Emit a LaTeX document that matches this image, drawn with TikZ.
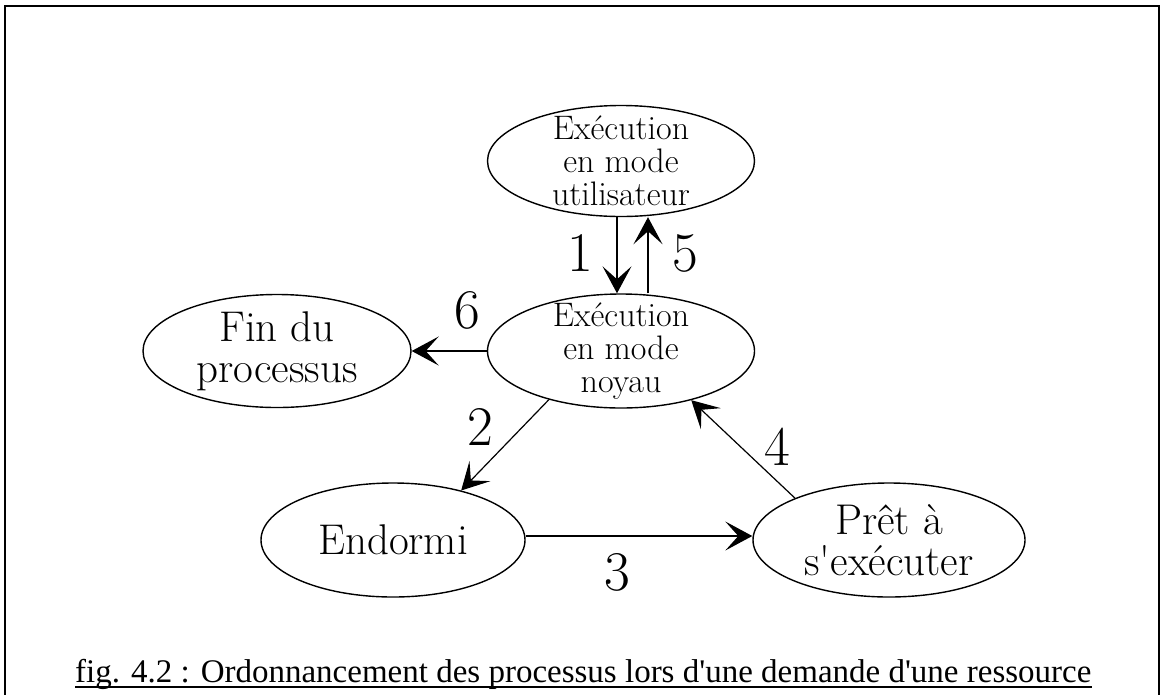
\documentclass[tikz,border=0pt]{standalone}
\usepackage{fontspec}
\newfontfamily\capfont{Liberation Serif}
\usetikzlibrary{arrows.meta,shapes.geometric}
\begin{document}
\begin{tikzpicture}[x=1pt,y=-1pt,
  state/.style={ellipse, draw, line width=1.4pt, inner xsep=0pt, inner ysep=-18pt, align=center},
  small/.style={font=\fontsize{34}{33}\selectfont},
  big/.style={font=\fontsize{43}{41}\selectfont},
  arr/.style={line width=1.2pt, -{Stealth[length=27pt,width=29pt,inset=13pt]}},
  num/.style={font=\fontsize{56}{56}\selectfont, inner sep=0pt},
]
\useasboundingbox (0,0) rectangle (1166,694);
\draw[line width=2.2pt] (5,710) -- (5,6) -- (1159,6) -- (1159,710);

\node[state, small, minimum width=267pt, minimum height=111pt] (U) at (621,161) {Exécution\\en mode\\utilisateur};
\node[state, small, minimum width=267pt, minimum height=114pt] (K) at (621,351) {Exécution\\en mode\\noyau};
\node[state, big, minimum width=268pt, minimum height=113pt] (F) at (277,351) {Fin du\\processus};
\node[state, big, minimum width=264pt, minimum height=114pt] (E) at (393,540) {Endormi};
\node[state, big, minimum width=272pt, minimum height=114pt] (P) at (889,540) {Prêt à\\s\textquotesingle exécuter};

\draw[arr] ([xshift=-4pt]U.south) -- ([xshift=-4pt]K.north);
\draw[arr] ([xshift=27pt]K.north) -- ([xshift=27pt]U.south);
\draw[arr] (K.west) -- (F.east);
\draw[arr] (K.214.6) -- (E.36.7);
\draw[arr] ([yshift=4pt]E.east) -- ([yshift=4pt]P.west);
\draw[arr] (P.156.4) -- (K.325.4);

\node[num] (n1) at (580,253) {1};
\node[num] (n5) at (685,253) {5};
\node[num] (n6) at (467,310) {6};
\node[num] (n2) at (480,427) {2};
\node[num] (n4) at (777,447) {4};
\node[num] (n3) at (617,572) {3};

\node[anchor=base west, inner sep=0pt, font=\capfont\fontsize{33}{33}\selectfont] (cap) at (75,682)
  {fig. 4.2 : Ordonnancement des processus lors d\textquotesingle une demande d\textquotesingle une ressource};
\draw[line width=2pt] ([yshift=-5pt]cap.base west) -- ([yshift=-5pt]cap.base east);
\end{tikzpicture}
\end{document}
